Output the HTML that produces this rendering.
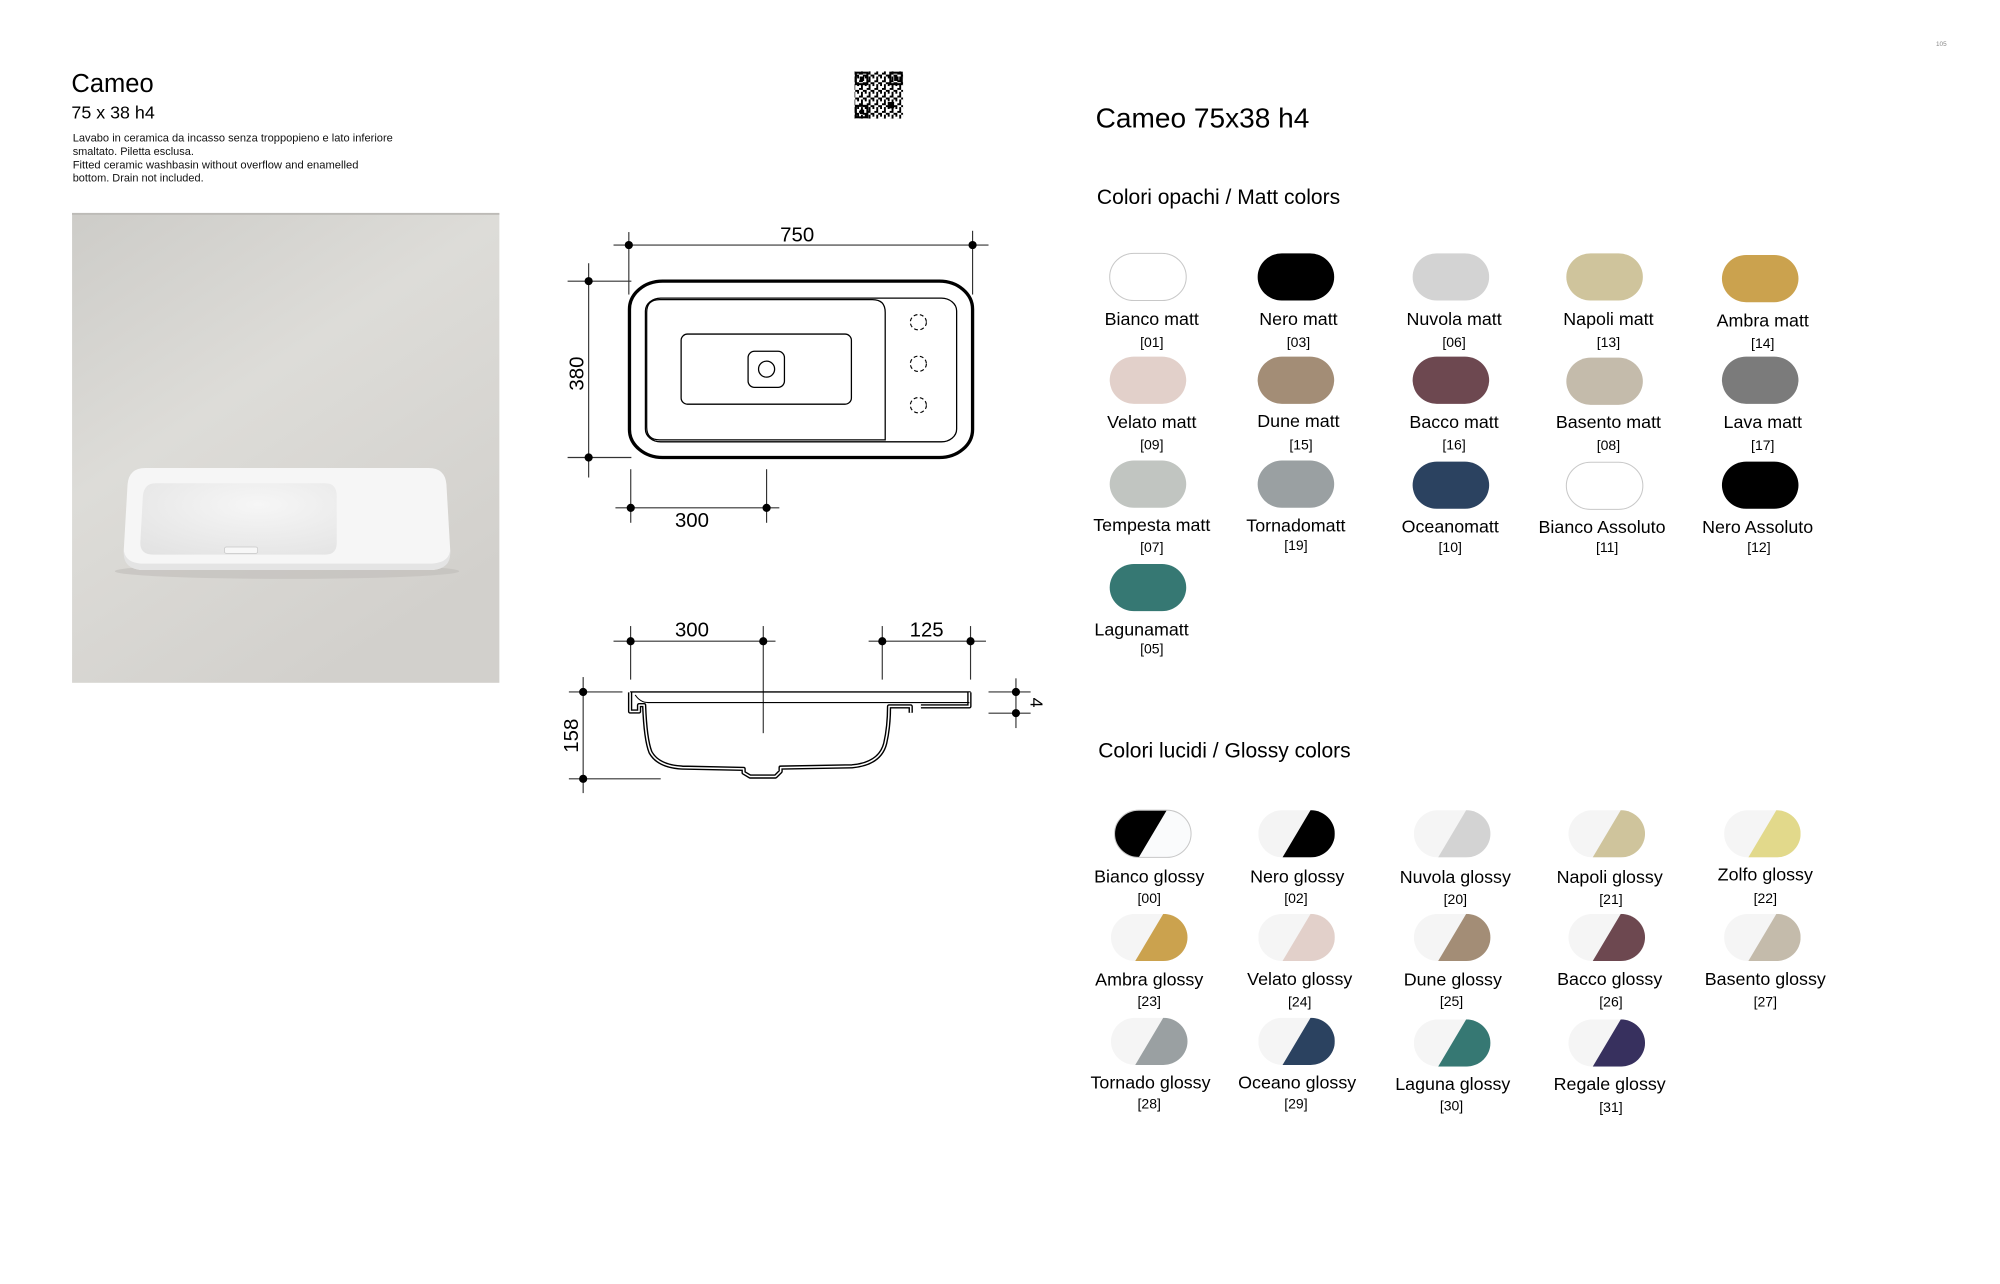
<!DOCTYPE html>
<html><head><meta charset="utf-8">
<style>
html,body{margin:0;padding:0;background:#fff;}
svg{display:block;}
text{font-family:"Liberation Sans",Arial,sans-serif;}
</style></head>
<body>
<svg width="2000" height="1284" viewBox="0 0 1568 1007" preserveAspectRatio="none" xmlns="http://www.w3.org/2000/svg">
<defs>
  <clipPath id="pill"><rect x="0" y="0" width="60" height="37" rx="19" ry="18.5"/></clipPath>
  <linearGradient id="bg" x1="0" y1="0" x2="0.6" y2="1">
    <stop offset="0" stop-color="#cdccc8"/>
    <stop offset="0.45" stop-color="#dddcd8"/>
    <stop offset="1" stop-color="#d2d0cc"/>
  </linearGradient>
  <radialGradient id="bowl" cx="0.6" cy="0.3" r="0.9">
    <stop offset="0" stop-color="#f6f6f6"/>
    <stop offset="1" stop-color="#e2e2e2"/>
  </radialGradient>
  <pattern id="qrp" width="6" height="6" patternUnits="userSpaceOnUse">
    <rect width="6" height="6" fill="#fff"/>
    <rect x="0" y="0" width="1.5" height="1.5" fill="#000"/>
    <rect x="3" y="0" width="1.5" height="3" fill="#000"/>
    <rect x="1.5" y="3" width="3" height="1.5" fill="#000"/>
    <rect x="4.5" y="4.5" width="1.5" height="1.5" fill="#000"/>
    <rect x="0" y="4.5" width="1.5" height="1.5" fill="#000"/>
  </pattern>
</defs>

<text x="1522" y="36" font-size="5" fill="#888" text-anchor="middle">105</text>

<text x="56" y="72" font-size="20" fill="#000">Cameo</text>
<text x="56" y="93" font-size="14" fill="#000">75 x 38 h4</text>
<g font-size="8.6" fill="#111">
<text x="57" y="111" textLength="251" lengthAdjust="spacingAndGlyphs">Lavabo in ceramica da incasso senza troppopieno e lato inferiore</text>
<text x="57" y="121.5">smaltato. Piletta esclusa.</text>
<text x="57" y="132" textLength="224" lengthAdjust="spacingAndGlyphs">Fitted ceramic washbasin without overflow and enamelled</text>
<text x="57" y="142.5">bottom. Drain not included.</text>
</g>

<!-- Photo -->
<rect x="56.5" y="167" width="335" height="368.5" fill="url(#bg)"/>
<rect x="56.5" y="167" width="335" height="1.5" fill="#bdbbb7"/>
<ellipse cx="225" cy="448" rx="135" ry="6" fill="#bfbdb9" opacity="0.6"/>
<path d="M114 367 H336 Q349 367 350 380 L353 432 Q353 446 339 447 H111 Q97 446 97 432 L100 380 Q101 367 114 367 Z" fill="#f6f6f6"/>
<path d="M97 430 V434 Q97 446 111 447 H339 Q353 446 353 434 V430 Q353 441 339 442 H111 Q97 441 97 430Z" fill="#e4e4e4"/>
<path d="M122 379 H255 Q264 379 264 389 V426 Q264 435 255 435 H120 Q110 435 110 426 L112 389 Q113 379 122 379Z" fill="url(#bowl)"/>
<rect x="176" y="429" width="26" height="5" rx="1.5" fill="#f7f7f7" stroke="#c8c8c8" stroke-width="0.6"/>

<!-- QR -->
<rect x="670" y="56" width="38" height="37" fill="url(#qrp)"/>
<g fill="none" stroke="#000" stroke-width="1.6">
<rect x="671" y="57" width="9" height="9"/>
<rect x="698" y="57" width="9" height="9"/>
<rect x="671" y="83" width="9" height="9"/>
</g>
<g fill="#000">
<rect x="674" y="60" width="3.5" height="3.5"/>
<rect x="701" y="60" width="3.5" height="3.5"/>
<rect x="674" y="86" width="3.5" height="3.5"/>
<rect x="696" y="80" width="5" height="5"/>
</g>

<!-- TOP VIEW -->
<g stroke="#000" fill="none">
  <rect x="493.5" y="220.5" width="269" height="138.3" rx="26" ry="22" stroke-width="2.6"/>
  <rect x="506" y="233.8" width="244" height="112.7" rx="12" ry="10" stroke-width="1"/>
  <path d="M694 345 H517 Q507 345 507 335 V245 Q507 235 517 235 H684 Q694 235 694 245 Z" stroke-width="1"/>
  <rect x="534" y="262" width="133.5" height="55" rx="5" stroke-width="1"/>
  <rect x="586.5" y="275.5" width="28.5" height="28.3" rx="5" stroke-width="1"/>
  <circle cx="601" cy="289.5" r="6.3" stroke-width="1"/>
  <g stroke-width="0.9" stroke-dasharray="3 2">
    <ellipse cx="720" cy="252.7" rx="6.3" ry="6"/>
    <ellipse cx="720" cy="285.3" rx="6.3" ry="6"/>
    <ellipse cx="720" cy="317.8" rx="6.3" ry="6"/>
  </g>
</g>
<g stroke="#333" stroke-width="0.9">
  <line x1="481" y1="192.2" x2="775" y2="192.2"/>
  <line x1="493" y1="182" x2="493" y2="231"/>
  <line x1="762.5" y1="181" x2="762.5" y2="231"/>
  <line x1="461.5" y1="206.5" x2="461.5" y2="374.5"/>
  <line x1="445" y1="220.5" x2="495" y2="220.5"/>
  <line x1="445" y1="358.8" x2="495" y2="358.8"/>
  <line x1="482.5" y1="398.3" x2="611" y2="398.3"/>
  <line x1="494.5" y1="368" x2="494.5" y2="410"/>
  <line x1="601" y1="368" x2="601" y2="410"/>
</g>
<g fill="#000">
  <circle cx="493" cy="192.2" r="3.2"/><circle cx="762.5" cy="192.2" r="3.2"/>
  <circle cx="461.5" cy="220.5" r="3.2"/><circle cx="461.5" cy="358.8" r="3.2"/>
  <circle cx="494.5" cy="398.3" r="3.2"/><circle cx="601" cy="398.3" r="3.2"/>
</g>
<g font-size="16" fill="#000" text-anchor="middle">
  <text x="625" y="189.5">750</text>
  <text x="542.5" y="413.5">300</text>
  <text transform="translate(457.5,293) rotate(-90)" text-anchor="middle">380</text>
</g>

<!-- SECTION -->
<g stroke="#333" stroke-width="0.9">
  <line x1="481" y1="502.9" x2="608" y2="502.9"/>
  <line x1="494.4" y1="491" x2="494.4" y2="533"/>
  <line x1="598.4" y1="491" x2="598.4" y2="575"/>
  <line x1="681" y1="502.9" x2="773" y2="502.9"/>
  <line x1="691.7" y1="491" x2="691.7" y2="533"/>
  <line x1="760.9" y1="491" x2="760.9" y2="533"/>
  <line x1="457.2" y1="531" x2="457.2" y2="622"/>
  <line x1="446" y1="542.7" x2="488" y2="542.7"/>
  <line x1="446" y1="610.8" x2="518" y2="610.8"/>
  <line x1="775" y1="542.7" x2="808" y2="542.7"/>
  <line x1="775" y1="559.3" x2="808" y2="559.3"/>
  <line x1="796.5" y1="532" x2="796.5" y2="571"/>
  <line x1="494" y1="542.7" x2="761" y2="542.7" stroke="#000" stroke-width="1.1"/>
</g>
<g fill="#000">
  <circle cx="494.4" cy="502.9" r="3.2"/><circle cx="598.4" cy="502.9" r="3.2"/>
  <circle cx="691.7" cy="502.9" r="3.2"/><circle cx="760.9" cy="502.9" r="3.2"/>
  <circle cx="457.2" cy="542.7" r="3.2"/><circle cx="457.2" cy="610.8" r="3.2"/>
  <circle cx="796.5" cy="542.7" r="3.2"/><circle cx="796.5" cy="559.3" r="3.2"/>
</g>
<g font-size="16" fill="#000" text-anchor="middle">
  <text x="542.5" y="499">300</text>
  <text x="726.5" y="499">125</text>
  <text transform="translate(453,577) rotate(-90)">158</text>
  <text transform="translate(808,551) rotate(90)" font-size="14">4</text>
</g>
<g fill="none" stroke-linejoin="round">
  <path d="M494 543 V558 H501 V553 H505 Q506 580 510 590 Q516 601 535 602 L583 603 V606 L588 609 H608 L612 605 V602 L668 601 Q690 599 694 583 Q697 570 697 554 H714 V559 M722 554 H760 V543" stroke="#000" stroke-width="3.4"/>
  <path d="M494 543 V558 H501 V553 H505 Q506 580 510 590 Q516 601 535 602 L583 603 V606 L588 609 H608 L612 605 V602 L668 601 Q690 599 694 583 Q697 570 697 554 H714 V559 M722 554 H760 V543" stroke="#fff" stroke-width="1.2"/>
  <path d="M498 545 Q502 551 508 551 H760" stroke="#000" stroke-width="0.8"/>
</g>

<!-- RIGHT -->
<text x="859" y="100" font-size="22" fill="#000">Cameo 75x38 h4</text>
<text x="860" y="160" font-size="16.5" fill="#000">Colori opachi / Matt colors</text>
<text x="861" y="594" font-size="16.5" fill="#000">Colori lucidi / Glossy colors</text>

<g>
  <rect x="870" y="198.7" width="60" height="37" rx="19" ry="18.5" fill="#fff" stroke="#c8c8c8" stroke-width="0.8"/>
  <rect x="986" y="198.7" width="60" height="37" rx="19" ry="18.5" fill="#000"/>
  <rect x="1107.5" y="198.7" width="60" height="37" rx="19" ry="18.5" fill="#d3d3d3"/>
  <rect x="1228" y="198.7" width="60" height="37" rx="19" ry="18.5" fill="#cfc49c"/>
  <rect x="1350" y="200" width="60" height="37" rx="19" ry="18.5" fill="#cba24e"/>
  <rect x="870" y="279.7" width="60" height="37" rx="19" ry="18.5" fill="#e2d0ca"/>
  <rect x="986" y="279.7" width="60" height="37" rx="19" ry="18.5" fill="#a38d76"/>
  <rect x="1107.5" y="279.7" width="60" height="37" rx="19" ry="18.5" fill="#6d4850"/>
  <rect x="1228" y="280.5" width="60" height="37" rx="19" ry="18.5" fill="#c4bbab"/>
  <rect x="1350" y="279.7" width="60" height="37" rx="19" ry="18.5" fill="#7b7b7b"/>
  <rect x="870" y="361.2" width="60" height="37" rx="19" ry="18.5" fill="#c1c5c1"/>
  <rect x="986" y="361.2" width="60" height="37" rx="19" ry="18.5" fill="#9aa0a2"/>
  <rect x="1107.5" y="362" width="60" height="37" rx="19" ry="18.5" fill="#2b4260"/>
  <rect x="1228" y="362.5" width="60" height="37" rx="19" ry="18.5" fill="#fff" stroke="#c8c8c8" stroke-width="0.8"/>
  <rect x="1350" y="362" width="60" height="37" rx="19" ry="18.5" fill="#000"/>
  <rect x="870" y="442.3" width="60" height="37" rx="19" ry="18.5" fill="#367873"/>
</g>
<g font-size="14" fill="#000" text-anchor="middle">
  <text x="903" y="255">Bianco matt</text>
  <text x="1018" y="255">Nero matt</text>
  <text x="1140" y="255">Nuvola matt</text>
  <text x="1261" y="255">Napoli matt</text>
  <text x="1382" y="256">Ambra matt</text>
  <text x="903" y="335.5">Velato matt</text>
  <text x="1018" y="335">Dune matt</text>
  <text x="1140" y="335.5">Bacco matt</text>
  <text x="1261" y="335.5">Basento matt</text>
  <text x="1382" y="335.5">Lava matt</text>
  <text x="903" y="416.5">Tempesta matt</text>
  <text x="1016" y="417">Tornadomatt</text>
  <text x="1137" y="417.5">Oceanomatt</text>
  <text x="1256" y="418">Bianco Assoluto</text>
  <text x="1378" y="418">Nero Assoluto</text>
  <text x="895" y="498.5">Lagunamatt</text>
</g>
<g font-size="11" fill="#000" text-anchor="middle">
  <text x="903" y="272">[01]</text>
  <text x="1018" y="272">[03]</text>
  <text x="1140" y="272">[06]</text>
  <text x="1261" y="272">[13]</text>
  <text x="1382" y="273">[14]</text>
  <text x="903" y="352.5">[09]</text>
  <text x="1020" y="352.5">[15]</text>
  <text x="1140" y="352.5">[16]</text>
  <text x="1261" y="353">[08]</text>
  <text x="1382" y="353">[17]</text>
  <text x="903" y="433">[07]</text>
  <text x="1016" y="431.5">[19]</text>
  <text x="1137" y="433">[10]</text>
  <text x="1260" y="433">[11]</text>
  <text x="1379" y="433">[12]</text>
  <text x="903" y="512.5">[05]</text>
</g>

<g>
  <g transform="translate(873.8,635.4)"><g clip-path="url(#pill)"><rect width="60" height="37" fill="#fafbfc"/><polygon points="0,0 41,0 19,37 0,37" fill="#000"/></g><rect width="60" height="37" rx="19" ry="18.5" fill="none" stroke="#c8c8c8" stroke-width="0.8"/></g>
  <g transform="translate(986.5,635.4)" clip-path="url(#pill)"><rect width="60" height="37" fill="#f4f4f4"/><polygon points="41,0 60,0 60,37 19,37" fill="#000"/></g>
  <g transform="translate(1108.5,635.4)" clip-path="url(#pill)"><rect width="60" height="37" fill="#f5f5f5"/><polygon points="41,0 60,0 60,37 19,37" fill="#d3d3d3"/></g>
  <g transform="translate(1229.7,635.4)" clip-path="url(#pill)"><rect width="60" height="37" fill="#f5f5f5"/><polygon points="41,0 60,0 60,37 19,37" fill="#cfc49c"/></g>
  <g transform="translate(1351.7,635.4)" clip-path="url(#pill)"><rect width="60" height="37" fill="#f5f5f5"/><polygon points="41,0 60,0 60,37 19,37" fill="#e2d98b"/></g>
  <g transform="translate(871,716.7)" clip-path="url(#pill)"><rect width="60" height="37" fill="#f5f5f5"/><polygon points="41,0 60,0 60,37 19,37" fill="#cba24e"/></g>
  <g transform="translate(986.5,716.7)" clip-path="url(#pill)"><rect width="60" height="37" fill="#f5f5f5"/><polygon points="41,0 60,0 60,37 19,37" fill="#e2d0ca"/></g>
  <g transform="translate(1108.5,716.7)" clip-path="url(#pill)"><rect width="60" height="37" fill="#f5f5f5"/><polygon points="41,0 60,0 60,37 19,37" fill="#a38d76"/></g>
  <g transform="translate(1229.7,716.7)" clip-path="url(#pill)"><rect width="60" height="37" fill="#f5f5f5"/><polygon points="41,0 60,0 60,37 19,37" fill="#6d4850"/></g>
  <g transform="translate(1351.7,716.7)" clip-path="url(#pill)"><rect width="60" height="37" fill="#f5f5f5"/><polygon points="41,0 60,0 60,37 19,37" fill="#c4bbab"/></g>
  <g transform="translate(871,798.2)" clip-path="url(#pill)"><rect width="60" height="37" fill="#f5f5f5"/><polygon points="41,0 60,0 60,37 19,37" fill="#9aa0a2"/></g>
  <g transform="translate(986.5,798.2)" clip-path="url(#pill)"><rect width="60" height="37" fill="#f5f5f5"/><polygon points="41,0 60,0 60,37 19,37" fill="#2b4260"/></g>
  <g transform="translate(1108.5,799.5)" clip-path="url(#pill)"><rect width="60" height="37" fill="#f5f5f5"/><polygon points="41,0 60,0 60,37 19,37" fill="#367873"/></g>
  <g transform="translate(1229.7,799.5)" clip-path="url(#pill)"><rect width="60" height="37" fill="#f5f5f5"/><polygon points="41,0 60,0 60,37 19,37" fill="#37305e"/></g>
</g>
<g font-size="14" fill="#000" text-anchor="middle">
  <text x="901" y="692">Bianco glossy</text>
  <text x="1017" y="692">Nero glossy</text>
  <text x="1141" y="692.5">Nuvola glossy</text>
  <text x="1262" y="692.5">Napoli glossy</text>
  <text x="1384" y="690.5">Zolfo glossy</text>
  <text x="901" y="773">Ambra glossy</text>
  <text x="1019" y="772.5">Velato glossy</text>
  <text x="1139" y="773">Dune glossy</text>
  <text x="1262" y="772.5">Bacco glossy</text>
  <text x="1384" y="772.5">Basento glossy</text>
  <text x="902" y="853.5">Tornado glossy</text>
  <text x="1017" y="853.5">Oceano glossy</text>
  <text x="1139" y="855">Laguna glossy</text>
  <text x="1262" y="855">Regale glossy</text>
</g>
<g font-size="11" fill="#000" text-anchor="middle">
  <text x="901" y="708">[00]</text>
  <text x="1016" y="708">[02]</text>
  <text x="1141" y="709">[20]</text>
  <text x="1263" y="709">[21]</text>
  <text x="1384" y="708">[22]</text>
  <text x="901" y="789">[23]</text>
  <text x="1019" y="789.5">[24]</text>
  <text x="1138" y="789">[25]</text>
  <text x="1263" y="789.5">[26]</text>
  <text x="1384" y="789.5">[27]</text>
  <text x="901" y="869.5">[28]</text>
  <text x="1016" y="869.5">[29]</text>
  <text x="1138" y="871">[30]</text>
  <text x="1263" y="872">[31]</text>
</g>
</svg>
</body></html>
